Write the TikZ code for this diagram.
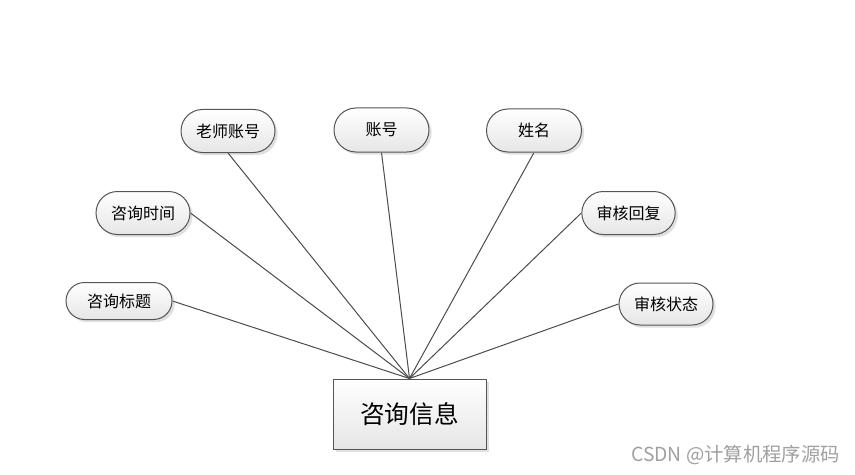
\documentclass[tikz,border=0pt]{standalone}
\usepackage{fontspec}
\setmainfont{Noto Sans CJK SC}
\usetikzlibrary{shapes.misc,shadows}
\definecolor{edgec}{HTML}{555555}
\definecolor{linec}{HTML}{4A4A4A}
\definecolor{shadec}{HTML}{E6E6E6}
\definecolor{wmark}{HTML}{A0A0A0}
\tikzset{
  attr/.style={rounded rectangle, draw=edgec, line width=0.75pt,
    top color=white, bottom color=shadec, inner sep=0pt,
    minimum height=32.25pt, font=\fontsize{12pt}{14pt}\selectfont,
    drop shadow={shadow xshift=2pt, shadow yshift=-2pt, fill=black!20, opacity=0.6}},
  entity/.style={rectangle, draw=edgec, line width=0.75pt,
    top color=white, bottom color=shadec, inner sep=0pt,
    minimum width=114.75pt, minimum height=52.5pt,
    font=\fontsize{18.5pt}{20pt}\selectfont,
    drop shadow={shadow xshift=2pt, shadow yshift=-2pt, fill=black!20, opacity=0.6}},
  conn/.style={draw=linec, line width=0.7pt},
  connshadow/.style={draw=black!12, line width=0.7pt, xshift=1.5pt, yshift=-1pt},
}
\begin{document}
\begin{tikzpicture}[x=0.75pt,y=-0.75pt]
\useasboundingbox (0,0) rectangle (855,474);
\fill[white] (0,0) rectangle (855,474);
% entity
\node[entity] (e) at (409.5,414) {咨询信息};
% attributes
\node[attr, minimum width=70.5pt] (a1) at (228,131) {老师账号};
\node[attr, minimum width=71.25pt, minimum height=33pt] (a2) at (381.5,130) {账号};
\node[attr, minimum width=71.25pt] (a3) at (534,130.5) {姓名};
\node[attr, minimum width=70.5pt] (a4) at (143,213) {咨询时间};
\node[attr, minimum width=70pt] (a5) at (628.5,213) {审核回复};
\node[attr, minimum width=79.5pt, minimum height=27.75pt] (a6) at (119,301) {咨询标题};
\node[attr, minimum width=70.5pt, minimum height=31.5pt] (a7) at (666,304) {审核状态};
% connector shadows
\begin{scope}[on background layer/.try]
\end{scope}
\foreach \s/\a in {a1.south/a1, a2.south/a2, a3.south/a3, a4.east/a4, a5.west/a5, a6.east/a6, a7.west/a7}{
  \draw[connshadow] (\s) -- (e.north);
}
\draw[conn] (a1.south) -- (e.north);
\draw[conn] (a2.south) -- (e.north);
\draw[conn] (a3.south) -- (e.north);
\draw[conn] (a4.east) -- (e.north);
\draw[conn] (a5.west) -- (e.north);
\draw[conn] (a6.east) -- (e.north);
\draw[conn] (a7.west) -- (e.north);
% watermark
\node[anchor=east, text=wmark, font=\fontsize{14.5pt}{16pt}\selectfont, inner sep=0pt] (wm) at (840,455) {CSDN @计算机程序源码};
\end{tikzpicture}
\end{document}
